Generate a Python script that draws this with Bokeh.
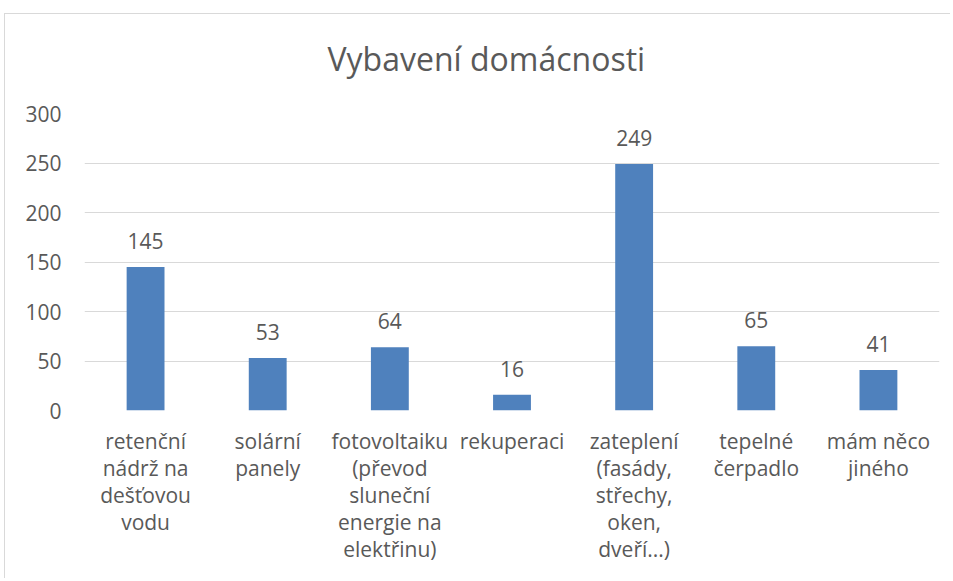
from bokeh.plotting import figure
from bokeh.models import ColumnDataSource, FixedTicker, Title
from bokeh.core.properties import value
from bokeh.embed import file_html
from bokeh.resources import INLINE

title_text = "Vybavení domácnosti"
categories = [
    "retenční\nnádrž na\ndešťovou\nvodu",
    "solární\npanely",
    "fotovoltaiku\n(převod\nsluneční\nenergie na\nelektřinu)",
    "rekuperaci",
    "zateplení\n(fasády,\nstřechy,\noken,\ndveří...)",
    "tepelné\nčerpadlo",
    "mám něco\njiného",
]
counts = [145, 53, 64, 16, 249, 65, 41]
y_ticks = [0, 50, 100, 150, 200, 250, 300]

FONT = "Open Sans"
TXT = "#595959"
GRID = "#d9d9d9"
BAR = "#4f81bd"

src = ColumnDataSource(dict(cat=categories, val=counts, lab=[str(v) for v in counts]))

p = figure(
    title=None,
    x_range=categories, y_range=(0, 300),
    width=946, height=565,
    output_backend="svg", toolbar_location=None,
    min_border_left=79, min_border_right=12, min_border_top=99, min_border_bottom=169,
)
p.styles = {"border-top": f"1px solid {GRID}", "border-left": f"1px solid {GRID}",
            "margin-top": "13px", "margin-left": "4px"}
p.outline_line_color = None
p.background_fill_color = "white"
p.border_fill_color = "white"

# spacer panel between title and plot area, then the title itself
spacer = Title(text=" ", text_font_size="1px", standoff=31)
p.add_layout(spacer, "above")
main_title = Title(text=title_text, text_font=FONT, text_font_size="32px", text_font_style="normal",
                   text_color=TXT, align="left", offset=243, standoff=0)
p.add_layout(main_title, "above")

p.vbar(x="cat", top="val", width=0.31, source=src, fill_color=BAR, line_color=None)
p.text(x="cat", y="val", text="lab", source=src, text_align="center", text_baseline="alphabetic",
       y_offset=-26, text_font=value(FONT), text_font_size="21px", text_color=TXT)

p.xgrid.grid_line_color = None
p.ygrid.grid_line_color = GRID
p.ygrid.ticker = FixedTicker(ticks=y_ticks)

p.yaxis.ticker = FixedTicker(ticks=y_ticks)
p.yaxis.axis_line_color = None
p.yaxis.major_tick_line_color = None
p.yaxis.minor_tick_line_color = None
p.yaxis.major_tick_out = 0
p.yaxis.major_label_standoff = 23
p.yaxis.major_label_text_font = FONT
p.yaxis.major_label_text_font_size = "21px"
p.yaxis.major_label_text_color = TXT

p.xaxis.axis_line_color = None
p.xaxis.major_tick_line_color = None
p.xaxis.major_tick_out = 0
p.xaxis.major_label_standoff = 16
p.xaxis.major_label_text_font = FONT
p.xaxis.major_label_text_font_size = "21px"
p.xaxis.major_label_text_line_height = 0.97
p.xaxis.major_label_text_color = TXT
p.xaxis.major_label_text_align = "center"

open("out.html", "w").write(file_html(p, INLINE))
